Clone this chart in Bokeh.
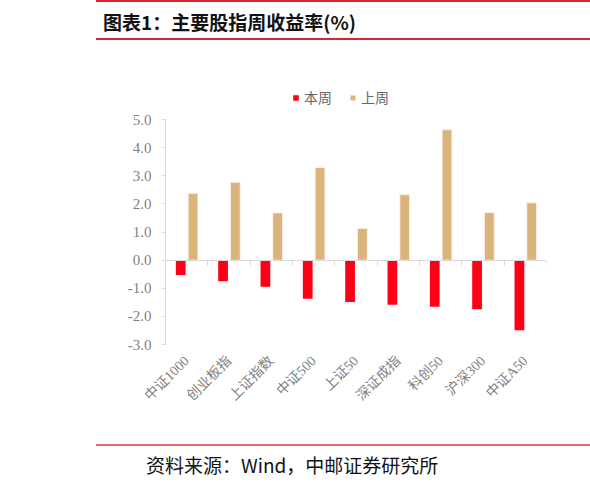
import math
from bokeh.plotting import figure
from bokeh.models import (Range1d, LinearAxis, FixedTicker, Div,
                          PrintfTickFormatter, Legend, LegendItem, ColumnDataSource)
from bokeh.transform import dodge
from bokeh.layouts import column
from bokeh.embed import file_html
from bokeh.resources import INLINE

# ---- data ----
categories = ["中证1000", "创业板指", "上证指数", "中证500", "上证50", "深证成指", "科创50", "沪深300", "中证A50"]
this_week = [-0.53, -0.75, -0.95, -1.37, -1.49, -1.59, -1.66, -1.75, -2.49]
last_week = [2.37, 2.77, 1.68, 3.29, 1.13, 2.33, 4.64, 1.69, 2.04]
y_ticks = [-3, -2, -1, 0, 1, 2, 3, 4, 5]
series_names = ["本周", "上周"]
title_text = "图表1：主要股指周收益率(%)"
source_text = "资料来源：Wind，中邮证券研究所"

RED = "#FE0016"
TAN = "#DBB47C"
AXIS = "#d9d9d9"
GRAY = "#7f7f7f"
SERIF = "'Liberation Serif', 'Noto Sans CJK SC'"
W = 590
n = len(categories)
idx = list(range(n))

# ---- header (title bar) ----
header_html = (
    '<div style="position:relative;width:590px;height:48px;overflow:hidden;">'
    '<div style="position:absolute;left:96px;top:0px;width:494px;height:0;border-top:2px solid #d7262d;"></div>'
    '<div style="position:absolute;left:103px;top:9px;white-space:nowrap;line-height:26px;'
    "font-family:'Noto Sans CJK SC';font-weight:bold;font-size:19px;color:#111;\">"
    + title_text +
    '</div>'
    '<div style="position:absolute;left:96px;top:38px;width:494px;height:0;border-top:2px solid #d7262d;"></div>'
    '</div>'
)
hdr = Div(text=header_html, width=W, height=48, margin=0)

# ---- main chart ----
p = figure(width=W, height=384, x_range=Range1d(-0.5, n - 0.5), y_range=Range1d(-3, 6),
           toolbar_location=None, output_backend="svg",
           min_border_left=165, min_border_right=44, min_border_top=43, min_border_bottom=88)
p.outline_line_color = None
p.xgrid.visible = False
p.ygrid.visible = False

src = ColumnDataSource(dict(idx=idx, cat=categories, this=this_week, last=last_week))
r1 = p.vbar(x=dodge("idx", -0.14), top="this", width=0.23, source=src,
            fill_color=RED, line_color=None)
r2 = p.vbar(x=dodge("idx", 0.15), top="last", width=0.23, source=src,
            fill_color=TAN, line_color="#fbf3e6", line_width=0.8)

yax = p.yaxis[0]
yax.ticker = FixedTicker(ticks=y_ticks)
yax.bounds = (y_ticks[0], y_ticks[-1])
yax.formatter = PrintfTickFormatter(format="%.1f")
yax.axis_line_color = AXIS
yax.major_tick_line_color = AXIS
yax.major_tick_in = 0
yax.major_tick_out = 4
yax.minor_tick_line_color = None
yax.major_label_standoff = 10
yax.major_label_text_font = "Liberation Serif"
yax.major_label_text_font_size = "15px"
yax.major_label_text_color = GRAY

xax = p.xaxis[0]
xax.ticker = FixedTicker(ticks=idx)
xax.major_label_overrides = {i: c for i, c in zip(idx, categories)}
xax.axis_line_color = None
xax.major_tick_line_color = None
xax.minor_tick_line_color = None
xax.major_tick_out = 0
xax.major_tick_in = 0
xax.major_label_orientation = math.pi / 4
xax.major_label_standoff = 14
xax.major_label_text_font = SERIF
xax.major_label_text_font_size = "14px"
xax.major_label_text_color = GRAY

ax2 = LinearAxis(ticker=FixedTicker(ticks=[i - 0.5 for i in range(n + 1)]),
                 fixed_location=0, axis_line_color=AXIS, major_tick_line_color=AXIS,
                 major_tick_in=0, major_tick_out=5, minor_tick_line_color=None,
                 major_label_text_font_size="1px", major_label_text_color=None,
                 major_label_standoff=0)
p.add_layout(ax2, "below")

legend = Legend(items=[LegendItem(label=series_names[0], renderers=[r1]),
                       LegendItem(label=series_names[1], renderers=[r2])],
                location=(127, 237), orientation="horizontal",
                glyph_width=7, glyph_height=7, label_standoff=5, spacing=17,
                padding=0, margin=0, border_line_color=None, background_fill_alpha=0,
                label_text_font=SERIF, label_text_font_size="14px", label_height=14,
                label_text_color="#666666", label_text_baseline="middle")
p.add_layout(legend)

# ---- footer (source) ----
footer_html = (
    '<div style="position:relative;width:590px;height:53px;overflow:hidden;">'
    '<div style="position:absolute;left:96px;top:12px;width:494px;height:0;border-top:2px solid #e06b6b;"></div>'
    '<div style="position:absolute;left:146px;top:20px;white-space:nowrap;line-height:26px;'
    "font-family:'Noto Sans CJK SC';font-size:19px;color:#111;\">"
    + source_text +
    '</div>'
    '</div>'
)
ftr = Div(text=footer_html, width=W, height=53, margin=0)

layout = column(hdr, p, ftr, spacing=0)
open("out.html", "w").write(file_html(layout, INLINE))
